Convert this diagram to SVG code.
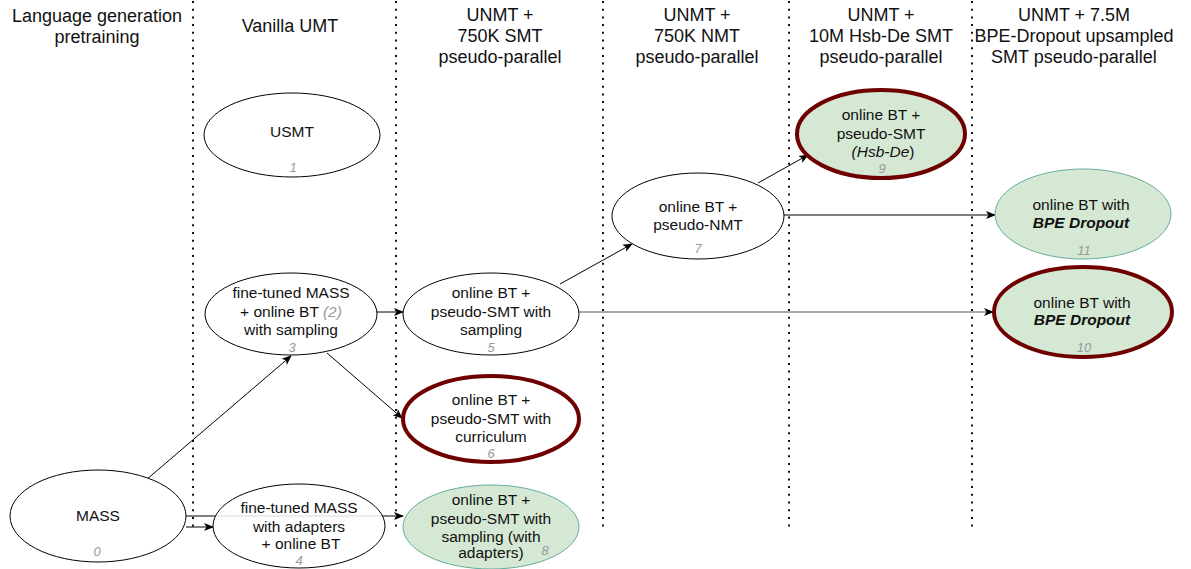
<svg xmlns="http://www.w3.org/2000/svg" width="1191" height="569" viewBox="0 0 1191 569">
<style>
text{font-family:"Liberation Sans",Arial,Helvetica,sans-serif;fill:#111}
.h{font-size:18px;text-anchor:middle}
.t{font-size:15.5px;text-anchor:middle}
.n{font-size:13px;font-style:italic;fill:#999;text-anchor:middle}
.sep{stroke:#111;stroke-width:2;stroke-dasharray:2 5.7}
.e{fill:#fff;stroke:#000;stroke-width:1}
.r{stroke:#6F0000;stroke-width:4}
.g{fill:#d5e8d4}
.gt{stroke:#67AB9F;stroke-width:1}
.c{stroke:#000;stroke-width:1;fill:none;marker-end:url(#a)}
.cg{stroke:#555;stroke-width:1.2;fill:none;marker-end:url(#a)}
</style>
<defs>
<marker id="a" viewBox="0 0 10 10" refX="9" refY="5" markerWidth="10" markerHeight="10" markerUnits="userSpaceOnUse" orient="auto">
<path d="M0,1 L10,5 L0,9 L2.5,5 Z" fill="#000"/>
</marker>
</defs>
<rect width="1191" height="569" fill="#fff"/>
<g id="separators">
<line class="sep" x1="193" y1="1" x2="193" y2="532"/>
<line class="sep" x1="396" y1="1" x2="396" y2="532"/>
<line class="sep" x1="603" y1="1" x2="603" y2="532"/>
<line class="sep" x1="789" y1="1" x2="789" y2="532"/>
<line class="sep" x1="972" y1="1" x2="972" y2="532"/>
</g>
<g id="headers">
<text class="h" x="97" y="22">Language generation</text>
<text class="h" x="97" y="43">pretraining</text>
<text class="h" x="290" y="32">Vanilla UMT</text>
<text class="h" x="500" y="21">UNMT +</text>
<text class="h" x="500" y="42">750K SMT</text>
<text class="h" x="500" y="63">pseudo-parallel</text>
<text class="h" x="697" y="21">UNMT +</text>
<text class="h" x="697" y="42">750K NMT</text>
<text class="h" x="697" y="63">pseudo-parallel</text>
<text class="h" x="881" y="21">UNMT +</text>
<text class="h" x="881" y="42">10M Hsb-De SMT</text>
<text class="h" x="881" y="63">pseudo-parallel</text>
<text class="h" x="1074" y="21">UNMT + 7.5M</text>
<text class="h" x="1074" y="42">BPE-Dropout upsampled</text>
<text class="h" x="1074" y="63">SMT pseudo-parallel</text>
</g>
<g id="connectors">
<line class="c" x1="146" y1="480" x2="291" y2="356"/>
<line class="c" x1="186" y1="516" x2="403" y2="516"/>
<line class="c" x1="186" y1="527" x2="213" y2="527"/>
<line class="c" x1="377" y1="312" x2="403" y2="312"/>
<line class="c" x1="327" y1="353" x2="402" y2="418"/>
<line class="c" x1="560" y1="284" x2="632" y2="244"/>
<line class="cg" x1="579" y1="312" x2="993" y2="312"/>
<line class="c" x1="758" y1="183" x2="808" y2="155"/>
<line class="c" x1="784" y1="215" x2="995" y2="215"/>
</g>
<g id="node0">
<ellipse class="e" cx="98" cy="516" rx="88" ry="46"/>
<text class="t" x="98" y="521">MASS</text>
<text class="n" x="97" y="556">0</text>
</g>
<g id="node1">
<ellipse class="e" cx="292" cy="135" rx="88" ry="42"/>
<text class="t" x="292" y="137">USMT</text>
<text class="n" x="293" y="172">1</text>
</g>
<g id="node3">
<ellipse class="e" cx="291" cy="314" rx="86" ry="41"/>
<text class="t" x="291" y="298">fine-tuned MASS</text>
<text class="t" x="291" y="317">+ online BT <tspan style="font-style:italic;fill:#999">(2)</tspan></text>
<text class="t" x="291" y="335">with sampling</text>
<text class="n" x="292" y="352">3</text>
</g>
<g id="node4">
<ellipse class="e" cx="299" cy="526" rx="86" ry="42" fill-opacity="0.85"/>
<text class="t" x="299" y="513">fine-tuned MASS</text>
<text class="t" x="299" y="532">with adapters</text>
<text class="t" x="301" y="549">+ online BT</text>
<text class="n" x="299" y="565">4</text>
</g>
<g id="node5">
<ellipse class="e" cx="491" cy="314" rx="88" ry="41"/>
<text class="t" x="491" y="298">online BT +</text>
<text class="t" x="491" y="317">pseudo-SMT with</text>
<text class="t" x="491" y="335">sampling</text>
<text class="n" x="491" y="352">5</text>
</g>
<g id="node6">
<ellipse class="e r" cx="491" cy="419" rx="88" ry="43"/>
<text class="t" x="491" y="405">online BT +</text>
<text class="t" x="491" y="424">pseudo-SMT with</text>
<text class="t" x="491" y="442">curriculum</text>
<text class="n" x="491" y="458">6</text>
</g>
<g id="node8">
<ellipse class="g gt" cx="491" cy="527" rx="88" ry="42"/>
<text class="t" x="491" y="505">online BT +</text>
<text class="t" x="491" y="524">pseudo-SMT with</text>
<text class="t" x="491" y="542">sampling (with</text>
<text class="t" x="491" y="558">adapters)</text>
<text class="n" x="545" y="555">8</text>
</g>
<g id="node7">
<ellipse class="e" cx="698" cy="216" rx="86" ry="43"/>
<text class="t" x="698" y="212">online BT +</text>
<text class="t" x="698" y="230">pseudo-NMT</text>
<text class="n" x="698" y="253">7</text>
</g>
<g id="node9">
<ellipse class="g r" cx="881" cy="134" rx="84" ry="44"/>
<text class="t" x="881" y="120">online BT +</text>
<text class="t" x="881" y="139">pseudo-SMT</text>
<text class="t" x="883" y="157"><tspan font-style="italic">(Hsb-De</tspan>)</text>
<text class="n" x="882" y="173">9</text>
</g>
<g id="node11">
<ellipse class="g gt" cx="1083" cy="214" rx="88" ry="45"/>
<text class="t" x="1081" y="210">online BT with</text>
<text class="t" x="1081" y="228" font-weight="bold" font-style="italic">BPE Dropout</text>
<text class="n" x="1084" y="255">11</text>
</g>
<g id="node10">
<ellipse class="g r" cx="1083" cy="312" rx="89" ry="45"/>
<text class="t" x="1082" y="308">online BT with</text>
<text class="t" x="1082" y="325" font-weight="bold" font-style="italic">BPE Dropout</text>
<text class="n" x="1084" y="352">10</text>
</g>
</svg>
